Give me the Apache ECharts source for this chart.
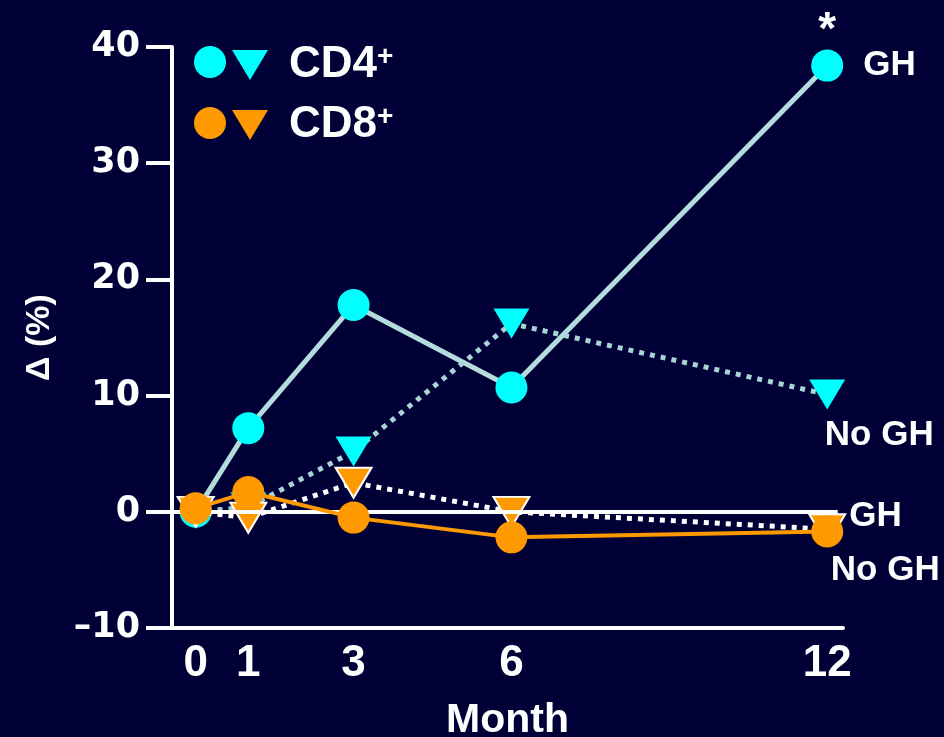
<!DOCTYPE html>
<html>
<head>
<meta charset="utf-8">
<script src="https://cdn.jsdelivr.net/npm/echarts@6/dist/echarts.min.js"></script>
<style>
  html, body { margin: 0; padding: 0; background: #000036; }
  #chart { width: 944px; height: 737px; }
</style>
</head>
<body>
<div id="chart"></div>
<script>
// months after start, change in % from baseline
const months = [0, 1, 3, 6, 12];
const cd4GH = [0, 7.2, 17.8, 10.7, 38.4];
const cd4NoGH = [0, 0.4, 5.2, 16.2, 10.1];
const cd8GH = [0.3, 1.7, -0.5, -2.2, -1.7];
const cd8NoGH = [0, -0.5, 2.5, 0, -1.5];
const xTickValues = [0, 1, 3, 6, 12];

const FONT = "'Liberation Sans', Arial, sans-serif";
const WIDE = "'DejaVu Sans', sans-serif";
const CYAN = "#00ffff";
const ORANGE = "#ff9900";
const downTri = "path://M0,0 L36,0 L18,30 Z";

// pair months with values, put an end label on the last point
const pairs = (vals, endLabel) =>
  months.map((m, i) => {
    if (i === months.length - 1 && endLabel) {
      return { value: [m, vals[i]], label: endLabel };
    }
    return [m, vals[i]];
  });

const endText = (text, extra) =>
  Object.assign(
    {
      show: true,
      formatter: text,
      color: "#fff",
      fontFamily: FONT,
      fontWeight: "bold",
      fontSize: 35,
    },
    extra
  );

const chart = echarts.init(document.getElementById("chart"));

const option = {
  backgroundColor: "#000036",
  animation: false,
  grid: { left: 172, right: 101, top: 47, bottom: 109, containLabel: false, outerBoundsMode: "none" },
  legend: [
    {
      data: ["CD4 GH", "CD8 GH"],
      orient: "vertical",
      left: 194,
      top: 46,
      padding: 0,
      icon: "circle",
      itemWidth: 32,
      itemHeight: 32,
      itemGap: 29,
      selectedMode: false,
      formatter: () => "",
      textStyle: { lineHeight: 30 },
    },
    {
      data: ["CD4 No GH", "CD8 No GH"],
      orient: "vertical",
      left: 232,
      top: 43,
      padding: 0,
      icon: downTri,
      itemWidth: 36,
      itemHeight: 30,
      itemGap: 16,
      selectedMode: false,
      itemStyle: { borderWidth: 0 },
      formatter: (name) =>
        "{n|" + (name.startsWith("CD4") ? "CD4" : "CD8") + "}{s|+}",
      textStyle: {
        color: "#fff",
        lineHeight: 30,
        rich: {
          n: {
            color: "#fff",
            fontFamily: FONT,
            fontWeight: "bold",
            fontSize: 44,
            lineHeight: 30,
            padding: [0, 0, 0, 16],
          },
          s: {
            color: "#fff",
            fontFamily: FONT,
            fontWeight: "bold",
            fontSize: 28,
            lineHeight: 30,
            padding: [0, 0, 16, 0],
          },
        },
      },
    },
  ],
  xAxis: {
    type: "value",
    min: -0.45,
    max: 12.3,
    name: "Month",
    nameLocation: "middle",
    nameGap: 72,
    nameTextStyle: {
      color: "#fff",
      fontFamily: FONT,
      fontWeight: "bold",
      fontSize: 41,
    },
    axisLine: { show: true, onZero: false, lineStyle: { color: "#fff", width: 4 } },
    axisTick: { show: false },
    splitLine: { show: false },
    axisLabel: {
      customValues: xTickValues,
      margin: 14,
      color: "#fff",
      fontFamily: FONT,
      fontWeight: "bold",
      fontSize: 44,
    },
  },
  yAxis: {
    type: "value",
    min: -10,
    max: 40,
    interval: 10,
    name: "\u0394 (%)",
    nameLocation: "middle",
    nameRotate: 90,
    nameGap: 115,
    nameTextStyle: {
      color: "#fff",
      fontFamily: FONT,
      fontWeight: "bold",
      fontSize: 34,
    },
    axisLine: { show: true, onZero: false, lineStyle: { color: "#fff", width: 4 } },
    axisTick: { show: true, inside: false, length: 26, lineStyle: { color: "#fff", width: 4 } },
    splitLine: { show: false },
    axisLabel: {
      margin: 32,
      color: "#fff",
      fontFamily: WIDE,
      fontWeight: "bold",
      fontSize: 35,
      formatter: (v) => (v < 0 ? "\u2013" + Math.abs(v) : String(v)),
    },
  },
  series: [
    {
      name: "CD4 GH",
      type: "line",
      data: pairs(cd4GH, endText("GH", { position: "right", distance: 20 })),
      symbol: "circle",
      symbolSize: 32,
      itemStyle: { color: CYAN },
      lineStyle: { color: "#b4dcdc", width: 5 },
      z: 2,
      markLine: {
        silent: true,
        symbol: "none",
        label: { show: false },
        lineStyle: { color: "#fff", width: 4, type: "solid" },
        data: [[{ coord: [-0.45, 0] }, { coord: [12.2, 0] }]],
      },
      markPoint: {
        symbol: "circle",
        symbolSize: 1,
        itemStyle: { color: "rgba(0,0,0,0)" },
        label: {
          show: true,
          formatter: "*",
          color: "#fff",
          fontFamily: FONT,
          fontWeight: "bold",
          fontSize: 46,
          offset: [0, -34],
        },
        data: [{ coord: [months[4], cd4GH[4]] }],
      },
    },
    {
      name: "CD4 No GH",
      type: "line",
      data: pairs(cd4NoGH, endText("No GH", { position: "bottom", distance: 8, offset: [52, 0] })),
      symbol: downTri,
      symbolSize: [36, 30],
      itemStyle: { color: CYAN },
      lineStyle: { color: "#a8d4d4", width: 5, type: [5, 6] },
      z: 3,
    },
    {
      name: "CD8 No GH",
      type: "line",
      data: pairs(cd8NoGH, endText("No GH", { position: "bottom", distance: 8, offset: [58, 0] })),
      symbol: downTri,
      symbolSize: [36, 30],
      itemStyle: { color: ORANGE, borderColor: "#fff", borderWidth: 2 },
      lineStyle: { color: "#fff", width: 5, type: [5, 6] },
      z: 4,
    },
    {
      name: "CD8 GH",
      type: "line",
      data: pairs(cd8GH, endText("GH", { position: "right", distance: 6, offset: [0, -15] })),
      symbol: "circle",
      symbolSize: 32,
      itemStyle: { color: ORANGE },
      lineStyle: { color: ORANGE, width: 4 },
      z: 5,
    },
  ],
};

chart.setOption(option);
window.addEventListener("resize", () => chart.resize());
</script>
</body>
</html>
